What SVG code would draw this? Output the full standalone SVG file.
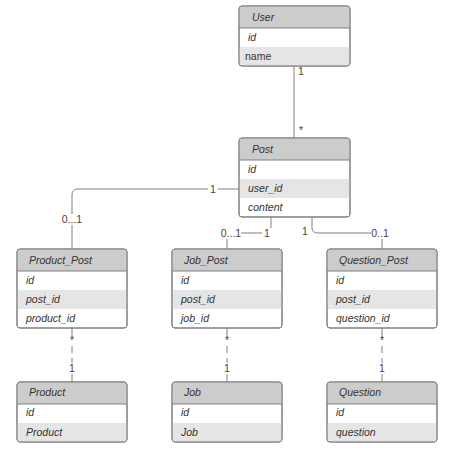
<svg xmlns="http://www.w3.org/2000/svg" width="474" height="457" viewBox="0 0 474 457">
<style>
.frame{fill:#ffffff;stroke:#7f7f7f;stroke-width:1}
.hdr{fill:#cccccc}
.alt{fill:#e5e5e5}
.sep{stroke:#7f7f7f;stroke-width:1}
.t{font-family:"Liberation Sans",Arial,sans-serif;font-size:10.5px;font-style:italic;fill:#333333}
.n{font-style:normal}
.conn{fill:none;stroke:#808080;stroke-width:1}
.dash{stroke-dasharray:10,5}
.bg{fill:#ffffff}
.lbl{font-family:"Liberation Sans",Arial,sans-serif;font-size:10.5px;fill:#444444;text-anchor:middle}
</style>
<rect width="474" height="457" fill="#ffffff"/>
<g id="connectors">
  <path class="conn" d="M294,66 V138"/>
  <path class="conn" d="M239,189 H78 Q72,189 72,195 V249"/>
  <path class="conn" d="M271,217 V228 Q271,233 266,233 H227 V249"/>
  <path class="conn" d="M312,217 V228 Q312,233 318,233 H382 V249"/>
  <path class="conn dash" d="M72,328 V382"/>
  <path class="conn dash" d="M227,328 V382"/>
  <path class="conn dash" d="M382,328 V382"/>
  <rect class="bg" x="208" y="184" width="10" height="11"/>
  <rect class="bg" x="62" y="214" width="20" height="11"/>
  <rect class="bg" x="221" y="228" width="20" height="11"/>
  <rect class="bg" x="262" y="228" width="10" height="11"/>
  <rect class="bg" x="371" y="228" width="18" height="11"/>
  <rect class="bg" x="68" y="337" width="8" height="9"/>
  <rect class="bg" x="67" y="363" width="10" height="11"/>
  <rect class="bg" x="223" y="337" width="8" height="9"/>
  <rect class="bg" x="222" y="363" width="10" height="11"/>
  <rect class="bg" x="378" y="337" width="8" height="9"/>
  <rect class="bg" x="377" y="363" width="10" height="11"/>
  <text class="lbl" x="301" y="75">1</text>
  <text class="lbl" x="301" y="134">*</text>
  <text class="lbl" x="213" y="193">1</text>
  <text class="lbl" x="72" y="223">0...1</text>
  <text class="lbl" x="231" y="237">0...1</text>
  <text class="lbl" x="267" y="237">1</text>
  <text class="lbl" x="305" y="235">1</text>
  <text class="lbl" x="380" y="237">0..1</text>
  <text class="lbl" x="72" y="344">*</text>
  <text class="lbl" x="72" y="372">1</text>
  <text class="lbl" x="227" y="344">*</text>
  <text class="lbl" x="227" y="372">1</text>
  <text class="lbl" x="382" y="344">*</text>
  <text class="lbl" x="382" y="372">1</text>
</g>
<g id="User">
  <rect class="frame" x="239" y="6" width="111" height="60" rx="3"/>
  <path class="hdr" d="M242,6.5 H347 Q349.5,6.5 349.5,9 V28 H239.5 V9 Q239.5,6.5 242,6.5 Z"/>
  <rect class="alt" x="239.5" y="47" width="110" height="18.5"/>
  <line class="sep" x1="239" y1="28" x2="350" y2="28"/>
  <rect x="239" y="6" width="111" height="60" rx="3" fill="none" stroke="#7f7f7f"/>
  <text class="t" x="252" y="21">User</text>
  <text class="t" x="248" y="41">id</text>
  <text class="t n" x="245" y="60">name</text>
</g>
<g id="Post">
  <rect class="frame" x="239" y="138" width="111" height="79" rx="3"/>
  <path class="hdr" d="M242,138.5 H347 Q349.5,138.5 349.5,141 V160 H239.5 V141 Q239.5,138.5 242,138.5 Z"/>
  <rect class="alt" x="239.5" y="179" width="110" height="19"/>
  <line class="sep" x1="239" y1="160" x2="350" y2="160"/>
  <rect x="239" y="138" width="111" height="79" rx="3" fill="none" stroke="#7f7f7f"/>
  <text class="t" x="252" y="153">Post</text>
  <text class="t" x="248" y="173">id</text>
  <text class="t" x="248" y="192">user_id</text>
  <text class="t" x="248" y="211">content</text>
</g>
<g id="Product_Post">
  <rect class="frame" x="17" y="249" width="110" height="79" rx="3"/>
  <path class="hdr" d="M20,249.5 H124 Q126.5,249.5 126.5,252 V271 H17.5 V252 Q17.5,249.5 20,249.5 Z"/>
  <rect class="alt" x="17.5" y="290" width="109" height="19"/>
  <line class="sep" x1="17" y1="271" x2="127" y2="271"/>
  <rect x="17" y="249" width="110" height="79" rx="3" fill="none" stroke="#7f7f7f"/>
  <text class="t" x="29" y="264">Product_Post</text>
  <text class="t" x="26" y="284">id</text>
  <text class="t" x="26" y="303">post_id</text>
  <text class="t" x="26" y="322">product_id</text>
</g>
<g id="Job_Post">
  <rect class="frame" x="172" y="249" width="110" height="79" rx="3"/>
  <path class="hdr" d="M175,249.5 H279 Q281.5,249.5 281.5,252 V271 H172.5 V252 Q172.5,249.5 175,249.5 Z"/>
  <rect class="alt" x="172.5" y="290" width="109" height="19"/>
  <line class="sep" x1="172" y1="271" x2="282" y2="271"/>
  <rect x="172" y="249" width="110" height="79" rx="3" fill="none" stroke="#7f7f7f"/>
  <text class="t" x="184" y="264">Job_Post</text>
  <text class="t" x="181" y="284">id</text>
  <text class="t" x="181" y="303">post_id</text>
  <text class="t" x="181" y="322">job_id</text>
</g>
<g id="Question_Post">
  <rect class="frame" x="327" y="249" width="110" height="79" rx="3"/>
  <path class="hdr" d="M330,249.5 H434 Q436.5,249.5 436.5,252 V271 H327.5 V252 Q327.5,249.5 330,249.5 Z"/>
  <rect class="alt" x="327.5" y="290" width="109" height="19"/>
  <line class="sep" x1="327" y1="271" x2="437" y2="271"/>
  <rect x="327" y="249" width="110" height="79" rx="3" fill="none" stroke="#7f7f7f"/>
  <text class="t" x="339" y="264">Question_Post</text>
  <text class="t" x="336" y="284">id</text>
  <text class="t" x="336" y="303">post_id</text>
  <text class="t" x="336" y="322">question_id</text>
</g>
<g id="Product">
  <rect class="frame" x="17" y="382" width="110" height="60" rx="3"/>
  <path class="hdr" d="M20,382.5 H124 Q126.5,382.5 126.5,385 V404 H17.5 V385 Q17.5,382.5 20,382.5 Z"/>
  <rect class="alt" x="17.5" y="423" width="109" height="18.5"/>
  <line class="sep" x1="17" y1="404" x2="127" y2="404"/>
  <rect x="17" y="382" width="110" height="60" rx="3" fill="none" stroke="#7f7f7f"/>
  <text class="t" x="29" y="396">Product</text>
  <text class="t" x="26" y="416">id</text>
  <text class="t" x="26" y="436">Product</text>
</g>
<g id="Job">
  <rect class="frame" x="172" y="382" width="110" height="60" rx="3"/>
  <path class="hdr" d="M175,382.5 H279 Q281.5,382.5 281.5,385 V404 H172.5 V385 Q172.5,382.5 175,382.5 Z"/>
  <rect class="alt" x="172.5" y="423" width="109" height="18.5"/>
  <line class="sep" x1="172" y1="404" x2="282" y2="404"/>
  <rect x="172" y="382" width="110" height="60" rx="3" fill="none" stroke="#7f7f7f"/>
  <text class="t" x="184" y="396">Job</text>
  <text class="t" x="181" y="416">id</text>
  <text class="t" x="181" y="436">Job</text>
</g>
<g id="Question">
  <rect class="frame" x="327" y="382" width="110" height="60" rx="3"/>
  <path class="hdr" d="M330,382.5 H434 Q436.5,382.5 436.5,385 V404 H327.5 V385 Q327.5,382.5 330,382.5 Z"/>
  <rect class="alt" x="327.5" y="423" width="109" height="18.5"/>
  <line class="sep" x1="327" y1="404" x2="437" y2="404"/>
  <rect x="327" y="382" width="110" height="60" rx="3" fill="none" stroke="#7f7f7f"/>
  <text class="t" x="339" y="396">Question</text>
  <text class="t" x="336" y="416">id</text>
  <text class="t" x="336" y="436">question</text>
</g>
</svg>
